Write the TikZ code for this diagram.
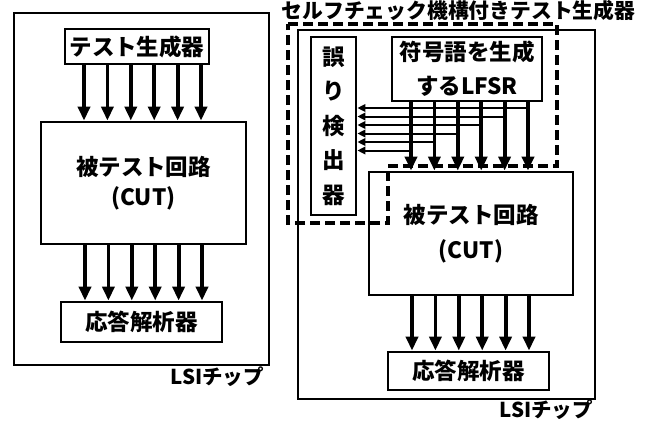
\documentclass[tikz,border=0pt]{standalone}
\usepackage{fontspec}
\setmainfont{Noto Sans CJK JP}
\usetikzlibrary{arrows.meta}
\begin{document}
\begin{tikzpicture}[x=1pt,y=-1pt,
  chip/.style={draw, line width=2.8pt, inner sep=0pt},
  box/.style={draw, line width=2.8pt, inner sep=0pt, align=center, font=\fontsize{22.5}{30}\selectfont\bfseries},
  lbl/.style={inner sep=0pt, font=\fontsize{20.5}{24}\selectfont\bfseries},
  arr/.style={line width=3.8pt, -{Triangle[length=14pt,width=12pt]}},
  tap/.style={line width=2pt, -{Triangle[length=8pt,width=7.5pt]}},
  selfck/.style={line width=3.5pt, dash pattern=on 10pt off 5pt}]
\useasboundingbox (0,0) rectangle (646,421);
% ---------- left ----------
\node[chip, minimum width=255pt, minimum height=352pt] (chipA) at (141.5,189) {};
\node[box, minimum width=144pt, minimum height=35pt] (genA) at (137,46.5) {テスト生成器};
\node[box, minimum width=205pt, minimum height=122pt, font=\fontsize{22.5}{30}\selectfont\bfseries] (cutA) at (143.5,183) {被テスト回路\\(CUT)};
\node[box, minimum width=161pt, minimum height=40pt] (anaA) at (141.5,322) {応答解析器};
\node[lbl, anchor=east] (lsiA) at (264,377) {LSIチップ};
\foreach \i in {0,...,5}{
  \pgfmathsetmacro\xx{84+23.4*\i}
  \draw[arr] (genA.south -| \xx,0) -- (cutA.north -| \xx,0);
  \pgfmathsetmacro\xb{85+23.4*\i}
  \draw[arr] (cutA.south -| \xb,0) -- (anaA.north -| \xb,0);
}
% ---------- right ----------
\node[lbl, font=\fontsize{20.8}{24}\selectfont\bfseries] (title) at (458.5,11) {セルフチェック機構付きテスト生成器};
\node[chip, minimum width=297pt, minimum height=369pt] (chipB) at (446.5,214.5) {};
\node[box, minimum width=45pt, minimum height=178pt, font=\fontsize{22.5}{34.5}\selectfont\bfseries] (err) at (333.5,126) {誤\\り\\検\\出\\器};
\node[box, minimum width=150pt, minimum height=64pt, font=\fontsize{22.5}{34}\selectfont\bfseries] (lfsr) at (467,69) {符号語を生成\\するLFSR};
\node[box, minimum width=204pt, minimum height=123pt, font=\fontsize{22.5}{35}\selectfont\bfseries] (cutB) at (471,233.5) {被テスト回路\\(CUT)};
\node[box, minimum width=161pt, minimum height=38pt] (anaB) at (468.5,371) {応答解析器};
\node[lbl, anchor=east] (lsiB) at (593,410) {LSIチップ};
\foreach \i in {0,...,5}{
  \pgfmathsetmacro\xx{411+23.4*\i}
  \pgfmathsetmacro\yy{150.5-8.5*\i}
  \draw[arr] (lfsr.south -| \xx,0) -- (cutB.north -| \xx,0);
  \coordinate (t\i) at (\xx,\yy);
  \draw[tap] (t\i) -- (err.east |- t\i);
  \pgfmathsetmacro\xb{412+23.4*\i}
  \draw[arr] (cutB.south -| \xb,0) -- (anaB.north -| \xb,0);
}
\coordinate (d1) at (288,24);
\coordinate (d2) at (557,24);
\coordinate (d3) at (557,166);
\coordinate (d4) at (388,166);
\coordinate (d5) at (388,223);
\coordinate (d6) at (288,223);
\draw[selfck] (d1) -- (d2) -- (d3) -- (d4) -- (d5) -- (d6) -- cycle;
\end{tikzpicture}
\end{document}
